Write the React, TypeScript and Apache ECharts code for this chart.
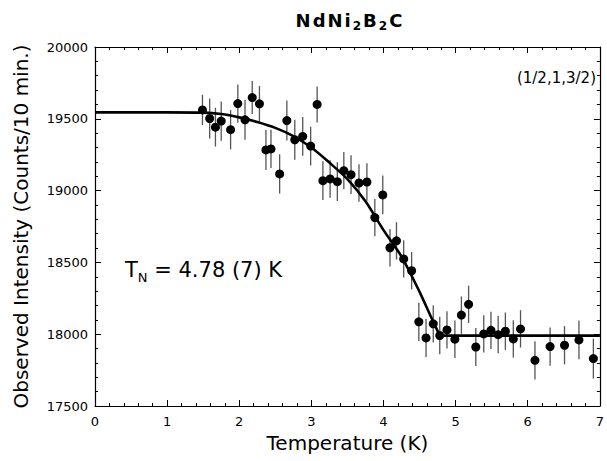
import React, { useEffect, useRef } from "react";
import * as echarts from "echarts";

// Measured data points (temperature in K, observed intensity in counts / 10 min)
const temps = [1.49, 1.59, 1.67, 1.75, 1.88, 1.98, 2.08, 2.18, 2.28, 2.37, 2.44, 2.56, 2.66, 2.77, 2.88, 2.99, 3.08, 3.16, 3.26, 3.36, 3.45, 3.55, 3.66, 3.77, 3.88, 3.99, 4.09, 4.18, 4.28, 4.39, 4.49, 4.59, 4.69, 4.78, 4.88, 4.99, 5.08, 5.18, 5.28, 5.39, 5.49, 5.59, 5.69, 5.8, 5.9, 6.1, 6.31, 6.51, 6.71, 6.91];
const intensities = [19562, 19502, 19442, 19484, 19424, 19606, 19493, 19648, 19604, 19283, 19290, 19116, 19488, 19354, 19377, 19310, 19600, 19069, 19081, 19062, 19139, 19111, 19053, 19060, 18812, 18970, 18602, 18650, 18524, 18442, 18086, 17974, 18072, 17991, 18030, 17965, 18133, 18208, 17911, 18002, 18027, 17997, 18021, 17967, 18037, 17818, 17914, 17923, 17960, 17830];
const errors = [105, 139, 135, 137, 137, 133, 139, 115, 125, 139, 133, 137, 139, 139, 135, 135, 125, 135, 130, 135, 130, 135, 130, 130, 130, 135, 130, 130, 130, 130, 133, 133, 130, 130, 130, 130, 130, 130, 133, 130, 130, 130, 130, 130, 130, 133, 133, 133, 135, 139];

// Fit curve
const fitT = [0, 1.0, 1.5, 1.75, 2.0, 2.25, 2.5, 2.75, 3.0, 3.25, 3.5, 3.75, 4.0, 4.25, 4.5, 4.65, 4.78, 7];
const fitI = [19545, 19545, 19543, 19533, 19510, 19478, 19437, 19380, 19300, 19195, 19080, 18925, 18725, 18540, 18295, 18130, 17990, 17990];
const TN = 4.78;

const FONT = "DejaVu Sans";

export default function App() {
  const ref = useRef<HTMLDivElement>(null);

  useEffect(() => {
    if (!ref.current) return;
    const chart = echarts.init(ref.current, null, { renderer: "svg" });

    const points = temps.map((t, i) => [t, intensities[i]]);
    const bars = temps.map((t, i) => [t, intensities[i] - errors[i], intensities[i] + errors[i]]);
    const curve = fitT.map((t, i) => [t, fitI[i]]).filter((p) => p[0] <= TN);
    const flat = fitT.map((t, i) => [t, fitI[i]]).filter((p) => p[0] >= TN);

    const axisCommon = {
      axisLine: { show: true, onZero: false, lineStyle: { color: "#000", width: 1.2 } },
      axisTick: { show: true, inside: true, length: 6, lineStyle: { color: "#000", width: 1 } },
      minorTick: { show: true, splitNumber: 5, length: 3, lineStyle: { color: "#000", width: 1 } },
      splitLine: { show: false },
    };

    chart.setOption({
      animation: false,
      backgroundColor: "#fff",
      grid: { left: 95, right: 6, top: 47, bottom: 55 },
      xAxis: [
        {
          type: "value",
          min: 0,
          max: 7,
          interval: 1,
          position: "bottom",
          ...axisCommon,
          axisLabel: { color: "#000", fontSize: 13, fontFamily: FONT, margin: 9 },
          name: "Temperature (K)",
          nameLocation: "middle",
          nameGap: 26,
          nameTextStyle: { color: "#000", fontSize: 20, fontFamily: FONT },
        },
        {
          type: "value",
          min: 0,
          max: 7,
          interval: 1,
          position: "top",
          ...axisCommon,
          axisLabel: { show: false },
        },
      ],
      yAxis: [
        {
          type: "value",
          min: 17500,
          max: 20000,
          interval: 500,
          position: "left",
          ...axisCommon,
          axisLabel: {
            color: "#000",
            fontSize: 13,
            fontFamily: FONT,
            margin: 7,
            formatter: (v: number) => String(v),
          },
          name: "Observed Intensity (Counts/10 min.)",
          nameLocation: "middle",
          nameGap: 64,
          nameTextStyle: { color: "#000", fontSize: 20, fontFamily: FONT },
        },
        {
          type: "value",
          min: 17500,
          max: 20000,
          interval: 500,
          position: "right",
          ...axisCommon,
          axisLabel: { show: false },
        },
      ],
      graphic: [
        {
          type: "text",
          x: 349,
          y: 20,
          style: {
            text: "{b|N}{b|d}{b|N}{b|i}{s|2}{b|B}{s|2}{b|C}",
            textAlign: "center",
            textVerticalAlign: "middle",
            fill: "#000",
            rich: {
              b: { fontSize: 18, fontWeight: "bold", fontFamily: FONT, lineHeight: 24, padding: [0, 1, 0, 1], verticalAlign: "middle" },
              s: { fontSize: 12, fontWeight: "bold", fontFamily: FONT, lineHeight: 12, padding: [0, 1, 0, 1], verticalAlign: "bottom" },
            },
          },
        },
        {
          type: "text",
          x: 596,
          y: 78,
          style: {
            text: "(1/2,1,3/2)",
            textAlign: "right",
            textVerticalAlign: "middle",
            fontSize: 15,
            fontFamily: FONT,
            fill: "#000",
          },
        },
        {
          type: "text",
          x: 125,
          y: 270,
          style: {
            text: "{m|T}{s|N}{m| = 4.78 (7) K}",
            textAlign: "left",
            textVerticalAlign: "middle",
            fill: "#000",
            rich: {
              m: { fontSize: 21, fontFamily: FONT, lineHeight: 28, verticalAlign: "middle" },
              s: { fontSize: 13, fontFamily: FONT, lineHeight: 13, verticalAlign: "bottom" },
            },
          },
        },
      ],
      series: [
        {
          type: "custom",
          name: "error",
          xAxisIndex: 0,
          yAxisIndex: 0,
          z: 1,
          encode: { x: 0, y: [1, 2] },
          data: bars,
          renderItem: (params: any, api: any) => {
            const x = api.value(0);
            const p1 = api.coord([x, api.value(1)]);
            const p2 = api.coord([x, api.value(2)]);
            return {
              type: "line",
              shape: { x1: p1[0], y1: p1[1], x2: p2[0], y2: p2[1] },
              style: { stroke: "#555", lineWidth: 1.3 },
            };
          },
        },
        {
          type: "line",
          name: "fit",
          z: 2,
          data: curve,
          showSymbol: false,
          symbol: "none",
          smooth: 0.25,
          lineStyle: { color: "#000", width: 2.6 },
        },
        {
          type: "line",
          name: "fit-flat",
          z: 2,
          data: flat,
          showSymbol: false,
          symbol: "none",
          lineStyle: { color: "#000", width: 2.6 },
        },
        {
          type: "scatter",
          name: "data",
          z: 3,
          data: points,
          symbol: "circle",
          symbolSize: 9,
          itemStyle: { color: "#000", opacity: 1 },
        },
      ],
    });

    return () => chart.dispose();
  }, []);

  return (
    <div
      ref={ref}
      style={{ position: "absolute", left: 0, top: 0, width: 607, height: 461 }}
    />
  );
}
